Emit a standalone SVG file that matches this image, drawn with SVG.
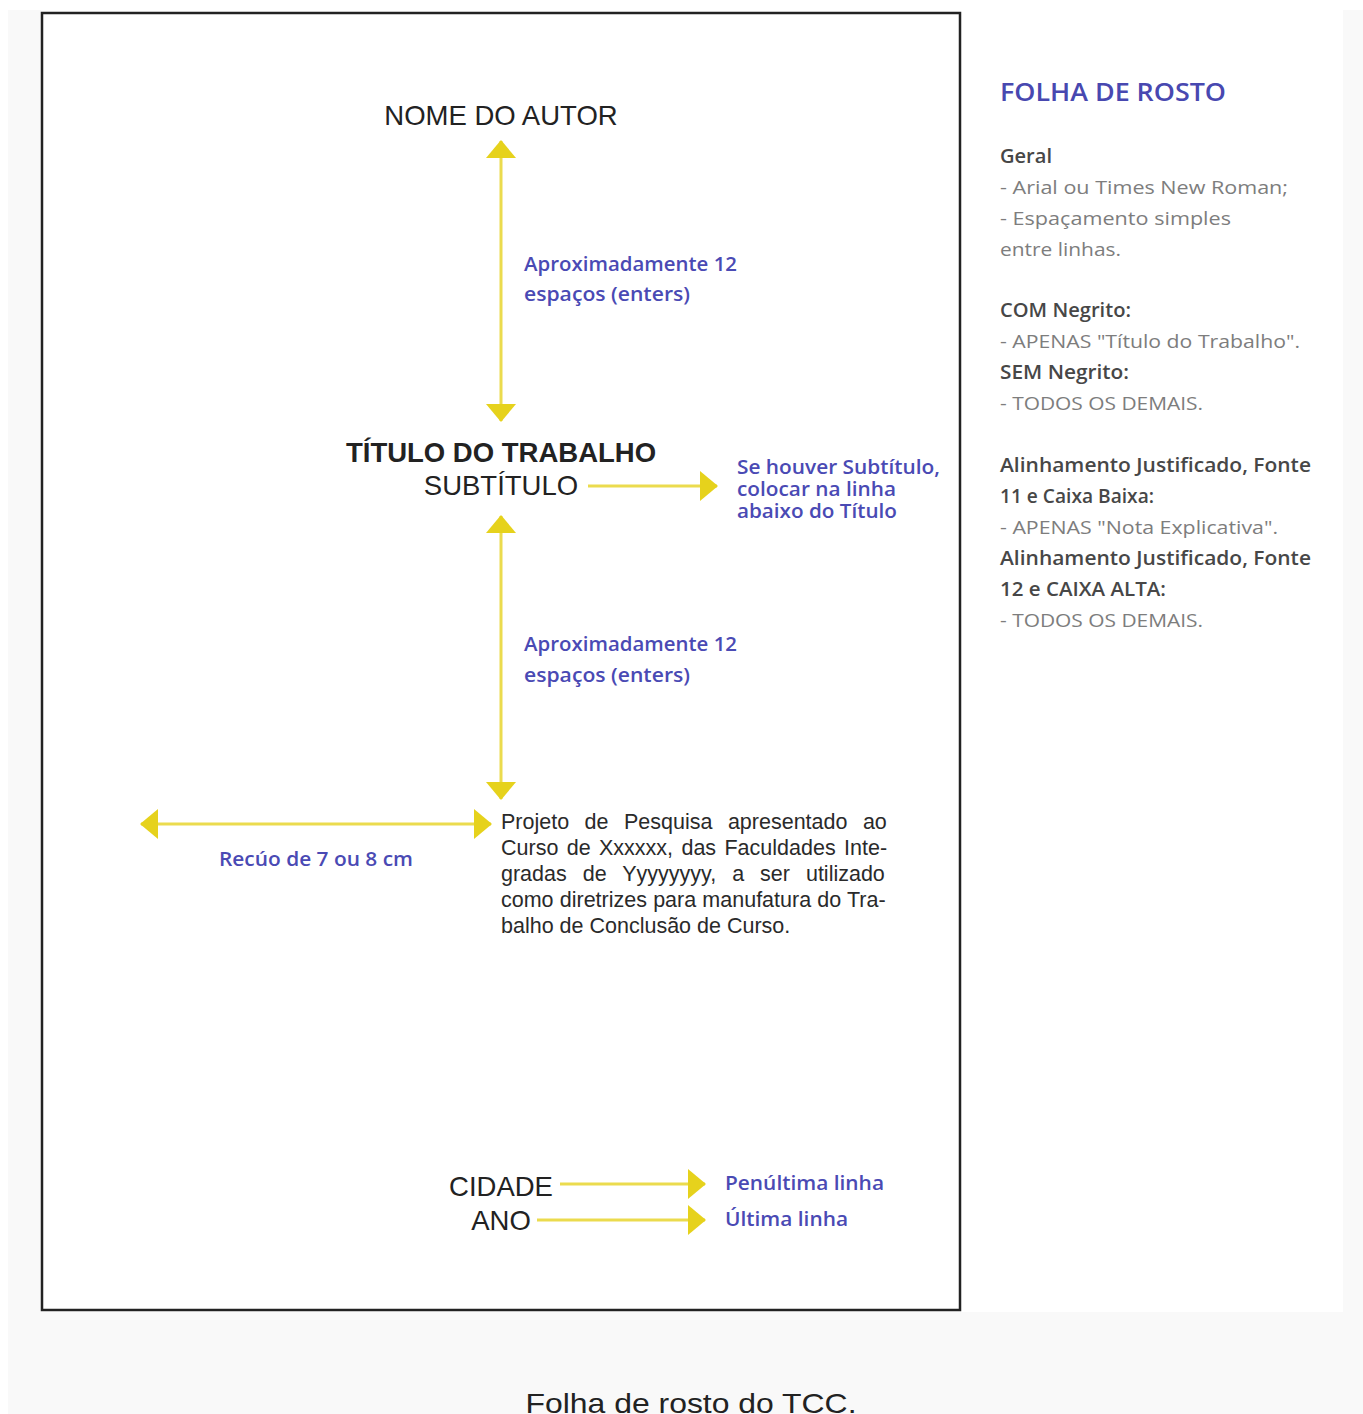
<svg xmlns="http://www.w3.org/2000/svg" width="1363" height="1414" viewBox="0 0 1363 1414">
<style>
.blk{font-family:"Liberation Sans",Arial,sans-serif;fill:#222;font-size:27.5px}
.lbl{font-family:"Open Sans","Noto Sans",sans-serif;font-weight:600;fill:#4a4ab4;font-size:20px}
.sm{font-size:19px}
.hd{font-family:"Open Sans","Noto Sans",sans-serif;font-weight:600;fill:#4848b0;font-size:26px}
.gb{font-family:"Open Sans","Noto Sans",sans-serif;font-weight:600;fill:#474747;font-size:19px}
.gn{font-family:"Open Sans","Noto Sans",sans-serif;fill:#7d7d7d;font-size:19px}
.par{font-family:"Liberation Sans",Arial,sans-serif;fill:#2a2a2a;font-size:21.5px}
.arr{stroke:#ebdb4e;stroke-width:3;fill:none}
</style>
<defs>
<marker id="ah" viewBox="0 0 18 30" refX="17" refY="15" markerWidth="18" markerHeight="30" markerUnits="userSpaceOnUse" orient="auto-start-reverse">
<path d="M0,0 L18,15 L0,30 Z" fill="#e6d21c"/>
</marker>
</defs>
<rect x="0" y="0" width="1363" height="1414" fill="#ffffff"/>
<rect x="8" y="10" width="1355" height="1404" fill="#f9f9f9"/>
<rect x="41" y="10" width="1302" height="1302" fill="#ffffff"/>
<rect id="page" x="42" y="13" width="918" height="1297" fill="#ffffff" stroke="#222" stroke-width="2.5"/>

<g id="connectors">
<line class="arr" x1="501" y1="141" x2="501" y2="421" marker-start="url(#ah)" marker-end="url(#ah)"/>
<line class="arr" x1="588" y1="486" x2="717" y2="486" marker-end="url(#ah)"/>
<line class="arr" x1="501" y1="516" x2="501" y2="799" marker-start="url(#ah)" marker-end="url(#ah)"/>
<line class="arr" x1="141" y1="824" x2="491" y2="824" marker-start="url(#ah)" marker-end="url(#ah)"/>
<line class="arr" x1="560" y1="1184" x2="705" y2="1184" marker-end="url(#ah)"/>
<line class="arr" x1="537" y1="1220" x2="705" y2="1220" marker-end="url(#ah)"/>
</g>

<g id="nome"><text class="blk" x="501" y="125" text-anchor="middle">NOME DO AUTOR</text></g>
<g id="espacos1">
<text class="lbl" x="524" y="271" textLength="213" lengthAdjust="spacingAndGlyphs">Aproximadamente 12</text>
<text class="lbl" x="524" y="301" textLength="166" lengthAdjust="spacingAndGlyphs">espaços (enters)</text>
</g>
<g id="titulo">
<text class="blk" x="501" y="462" text-anchor="middle" font-weight="bold" font-size="28">TÍTULO DO TRABALHO</text>
<text class="blk" x="501" y="495" text-anchor="middle">SUBTÍTULO</text>
</g>
<g id="subtitulo-nota">
<text class="lbl sm" x="737" y="474" textLength="203" lengthAdjust="spacingAndGlyphs">Se houver Subtítulo,</text>
<text class="lbl sm" x="737" y="496" textLength="159" lengthAdjust="spacingAndGlyphs">colocar na linha</text>
<text class="lbl sm" x="737" y="518" textLength="160" lengthAdjust="spacingAndGlyphs">abaixo do Título</text>
</g>
<g id="espacos2">
<text class="lbl" x="524" y="651" textLength="213" lengthAdjust="spacingAndGlyphs">Aproximadamente 12</text>
<text class="lbl" x="524" y="682" textLength="166" lengthAdjust="spacingAndGlyphs">espaços (enters)</text>
</g>
<g id="recuo"><text class="lbl" x="219" y="866" textLength="194" lengthAdjust="spacingAndGlyphs">Recúo de 7 ou 8 cm</text></g>
<g id="nota">
<text class="par" x="501" y="829" word-spacing="9.5">Projeto de Pesquisa apresentado ao</text>
<text class="par" x="501" y="855" word-spacing="2.4">Curso de Xxxxxx, das Faculdades Inte-</text>
<text class="par" x="501" y="881" word-spacing="10">gradas de Yyyyyyyy, a ser utilizado</text>
<text class="par" x="501" y="907" word-spacing="0.2">como diretrizes para manufatura do Tra-</text>
<text class="par" x="501" y="933">balho de Conclusão de Curso.</text>
</g>
<g id="cidade">
<text class="blk" x="501" y="1196" text-anchor="middle">CIDADE</text>
<text class="blk" x="501" y="1230" text-anchor="middle">ANO</text>
</g>
<g id="linhas">
<text class="lbl" x="725" y="1190" textLength="159" lengthAdjust="spacingAndGlyphs">Penúltima linha</text>
<text class="lbl" x="725" y="1226" textLength="123" lengthAdjust="spacingAndGlyphs">Última linha</text>
</g>

<g id="painel">
<text class="hd" x="1000" y="101" textLength="226" lengthAdjust="spacingAndGlyphs">FOLHA DE ROSTO</text>
<text class="gb" x="1000" y="163" textLength="52" lengthAdjust="spacingAndGlyphs">Geral</text>
<text class="gn" x="1000" y="194" textLength="288" lengthAdjust="spacingAndGlyphs">- Arial ou Times New Roman;</text>
<text class="gn" x="1000" y="225" textLength="231" lengthAdjust="spacingAndGlyphs">- Espaçamento simples</text>
<text class="gn" x="1000" y="256" textLength="121" lengthAdjust="spacingAndGlyphs">entre linhas.</text>
<text class="gb" x="1000" y="317" textLength="131" lengthAdjust="spacingAndGlyphs">COM Negrito:</text>
<text class="gn" x="1000" y="348" textLength="300" lengthAdjust="spacingAndGlyphs">- APENAS "Título do Trabalho".</text>
<text class="gb" x="1000" y="379" textLength="129" lengthAdjust="spacingAndGlyphs">SEM Negrito:</text>
<text class="gn" x="1000" y="410" textLength="203" lengthAdjust="spacingAndGlyphs">- TODOS OS DEMAIS.</text>
<text class="gb" x="1000" y="472" textLength="311" lengthAdjust="spacingAndGlyphs">Alinhamento Justificado, Fonte</text>
<text class="gb" x="1000" y="503" textLength="154" lengthAdjust="spacingAndGlyphs">11 e Caixa Baixa:</text>
<text class="gn" x="1000" y="534" textLength="278" lengthAdjust="spacingAndGlyphs">- APENAS "Nota Explicativa".</text>
<text class="gb" x="1000" y="565" textLength="311" lengthAdjust="spacingAndGlyphs">Alinhamento Justificado, Fonte</text>
<text class="gb" x="1000" y="596" textLength="166" lengthAdjust="spacingAndGlyphs">12 e CAIXA ALTA:</text>
<text class="gn" x="1000" y="627" textLength="203" lengthAdjust="spacingAndGlyphs">- TODOS OS DEMAIS.</text>
</g>

<g id="legenda"><text class="blk" x="691" y="1413" text-anchor="middle" font-size="33" fill="#111" textLength="331" lengthAdjust="spacingAndGlyphs">Folha de rosto do TCC.</text></g>
</svg>
